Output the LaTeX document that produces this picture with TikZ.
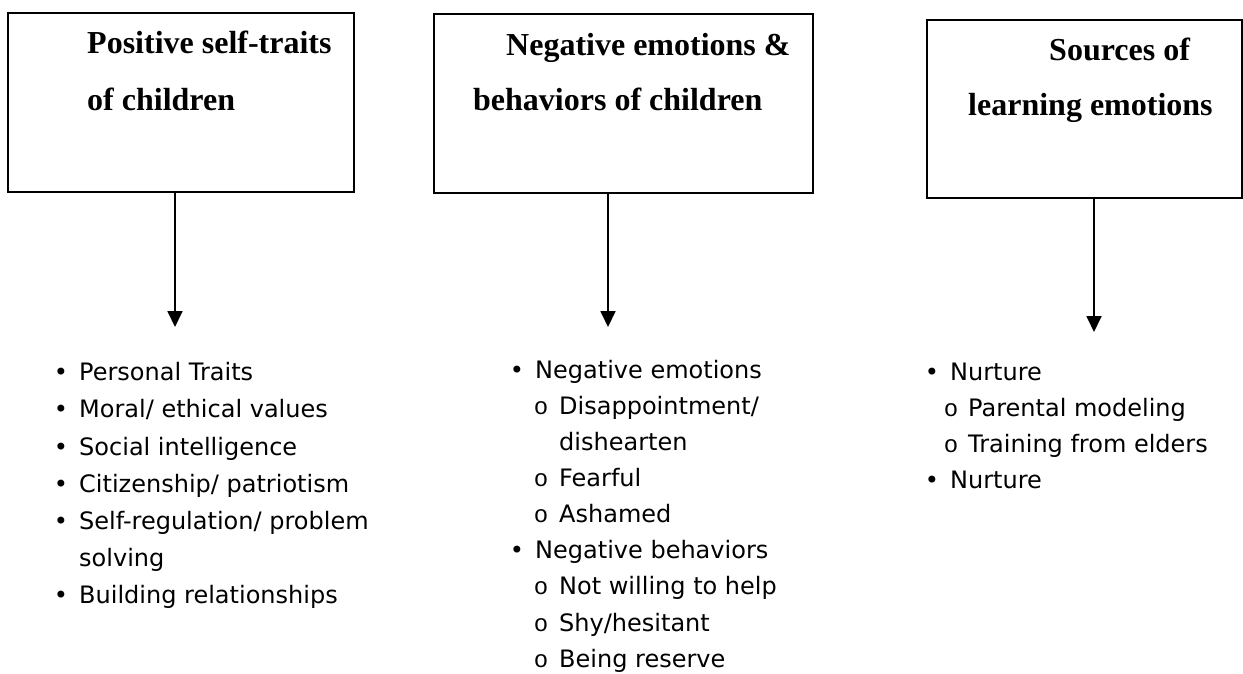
\documentclass[tikz,border=0pt]{standalone}
\usepackage{fontspec}
\setmainfont{Liberation Serif}
\newfontfamily\lstfont{DejaVu Sans}
\newfontfamily\circfont{Liberation Mono}
\usetikzlibrary{arrows.meta}
\begin{document}
\begin{tikzpicture}[x=1pt,y=-1pt,
  box/.style={draw, line width=1.8pt, inner sep=0pt},
  head/.style={anchor=base west, inner sep=0pt, font=\fontsize{32}{38}\selectfont\bfseries},
  item/.style={anchor=base west, inner sep=0pt, font=\lstfont\fontsize{24}{28}\selectfont},
  bul/.style={anchor=base, inner sep=0pt, font=\lstfont\fontsize{24}{28}\selectfont},
  subb/.style={anchor=base, inner sep=0pt, font=\circfont\fontsize{24}{28}\selectfont},
  conn/.style={line width=1.8pt, -{Triangle[length=16pt,width=15pt]}}]
\useasboundingbox (0,0) rectangle (1243,673);
\fill[white] (0,0) rectangle (1243,673);

% boxes
\node[box, minimum width=346pt, minimum height=179pt] (b1) at (181,102.5) {};
\node[box, minimum width=379pt, minimum height=179pt] (b2) at (623.5,103.5) {};
\node[box, minimum width=315pt, minimum height=178pt] (b3) at (1084.5,109) {};

% titles
\node[head] (h11) at (87,53) {Positive self-traits};
\node[head] (h12) at (87,110) {of children};
\node[head] (h21) at (506,55) {Negative emotions \&};
\node[head] (h22) at (473,110) {behaviors of children};
\node[head] (h31) at (1049,60) {Sources of};
\node[head] (h32) at (968,115) {learning emotions};

% arrows
\coordinate (t1) at (175,327);
\coordinate (t2) at (608,327);
\coordinate (t3) at (1094,332);
\draw[conn] (b1.south -| t1) -- (t1);
\draw[conn] (b2.south -| t2) -- (t2);
\draw[conn] (b3.south -| t3) -- (t3);

% left list
\node[bul] (p1) at (61,380) {•};
\node[item] (q1) at (79,380) {Personal Traits};
\node[bul] (p2) at (61,417) {•};
\node[item] (q2) at (79,417) {Moral/ ethical values};
\node[bul] (p3) at (61,455) {•};
\node[item] (q3) at (79,455) {Social intelligence};
\node[bul] (p4) at (61,492) {•};
\node[item] (q4) at (79,492) {Citizenship/ patriotism};
\node[bul] (p5) at (61,529) {•};
\node[item] (q5) at (79,529) {Self-regulation/ problem};
\node[item] (q5b) at (79,566) {solving};
\node[bul] (p6) at (61,603) {•};
\node[item] (q6) at (79,603) {Building relationships};

% middle list
\node[bul] (m1) at (517,378) {•};
\node[item] (n1) at (535,378) {Negative emotions};
\node[subb] (m2) at (541,414) {o};
\node[item] (n2) at (559,414) {Disappointment/};
\node[item] (n2b) at (559,450) {dishearten};
\node[subb] (m3) at (541,486.5) {o};
\node[item] (n3) at (559,486.5) {Fearful};
\node[subb] (m4) at (541,522.5) {o};
\node[item] (n4) at (559,522.5) {Ashamed};
\node[bul] (m5) at (517,558.5) {•};
\node[item] (n5) at (535,558.5) {Negative behaviors};
\node[subb] (m6) at (541,594.5) {o};
\node[item] (n6) at (559,594.5) {Not willing to help};
\node[subb] (m7) at (541,631) {o};
\node[item] (n7) at (559,631) {Shy/hesitant};
\node[subb] (m8) at (541,667) {o};
\node[item] (n8) at (559,667) {Being reserve};

% right list
\node[bul] (r1) at (932,380) {•};
\node[item] (s1) at (950,380) {Nurture};
\node[subb] (r2) at (951,416.5) {o};
\node[item] (s2) at (968,416.5) {Parental modeling};
\node[subb] (r3) at (951,452.5) {o};
\node[item] (s3) at (968,452.5) {Training from elders};
\node[bul] (r4) at (932,488.5) {•};
\node[item] (s4) at (950,488.5) {Nurture};
\end{tikzpicture}
\end{document}
